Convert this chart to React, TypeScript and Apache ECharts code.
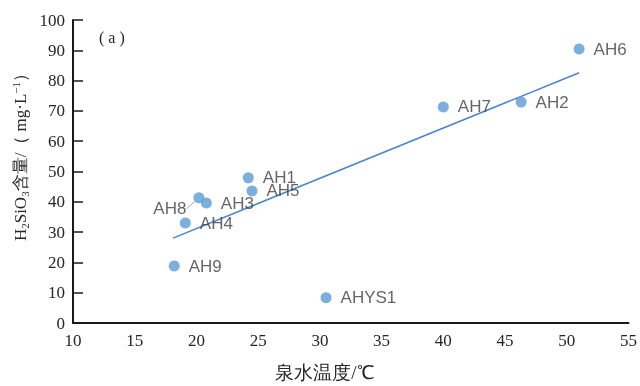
import React, { useEffect, useRef } from "react";
import * as echarts from "echarts";

const names = ["AH1", "AH2", "AH3", "AH4", "AH5", "AH6", "AH7", "AH8", "AH9", "AHYS1"];
const temps = [24.2, 46.3, 20.8, 19.1, 24.5, 51.0, 40.0, 20.2, 18.2, 30.5];
const silica = [47.9, 72.9, 39.6, 33.0, 43.6, 90.4, 71.3, 41.3, 18.8, 8.3];
const trendX = [18.1, 51.0];
const trendY = [28.0, 82.6];
const xTicks = { min: 10, max: 55, interval: 5 };
const yTicks = { min: 0, max: 100, interval: 10 };
const xName = "泉水温度/℃";

const serif = "Liberation Serif";
const sans = "Liberation Sans";

export default function App() {
  const ref = useRef<HTMLDivElement>(null);
  useEffect(() => {
    if (!ref.current) return;
    const chart = echarts.init(ref.current, null, { renderer: "svg" });
    const ah8 = names.indexOf("AH8");
    const data = names.map((n, i) => {
      const item: any = { name: n, value: [temps[i], silica[i]] };
      if (i === ah8) {
        item.label = { position: "left", distance: 10 };
        item.labelLine = { show: true, lineStyle: { color: "#a6a6a6", width: 1 } };
      }
      return item;
    });
    chart.setOption({
      animation: false,
      grid: { left: 73, right: 10, top: 20, bottom: 63, containLabel: false },
      xAxis: {
        type: "value",
        min: xTicks.min,
        max: xTicks.max,
        interval: xTicks.interval,
        axisLine: { show: true, onZero: false, lineStyle: { color: "#1a1a1a", width: 2 } },
        axisTick: { show: false },
        splitLine: { show: false },
        axisLabel: { fontFamily: serif, fontSize: 17, color: "#262626", margin: 9 },
      },
      yAxis: {
        type: "value",
        min: yTicks.min,
        max: yTicks.max,
        interval: yTicks.interval,
        axisLine: { show: true, onZero: false, lineStyle: { color: "#1a1a1a", width: 2 } },
        axisTick: { show: true, inside: true, length: 10, lineStyle: { color: "#1a1a1a", width: 1.5 } },
        splitLine: { show: false },
        axisLabel: { fontFamily: serif, fontSize: 17, color: "#262626", margin: 8 },
      },
      graphic: [
        {
          type: "text",
          x: 99,
          y: 37,
          style: { text: "( a )", font: `16px ${serif}`, fill: "#262626", verticalAlign: "middle", align: "left" },
        },
        {
          type: "text",
          x: 325,
          y: 372,
          style: { text: xName, font: `19px ${serif}`, fill: "#262626", verticalAlign: "middle", align: "center" },
        },
        {
          type: "text",
          x: 20,
          y: 153,
          rotation: Math.PI / 2,
          style: {
            text: "{n|H}{s|2}{n|SiO}{s|3}{n|含量/（ mg·L}{p|−1}{n|）}",
            align: "center",
            verticalAlign: "middle",
            fill: "#262626",
            rich: {
              n: { fontFamily: serif, fontSize: 17, fill: "#262626", verticalAlign: "middle", lineHeight: 20 },
              s: { fontFamily: serif, fontSize: 11, fill: "#262626", verticalAlign: "bottom", lineHeight: 20, padding: [8, 0, 0, 0] },
              p: { fontFamily: serif, fontSize: 11, fill: "#262626", verticalAlign: "top", lineHeight: 20, padding: [0, 0, 8, 0] },
            },
          },
        },
      ],
      series: [
        {
          type: "line",
          data: trendX.map((x, i) => [x, trendY[i]]),
          showSymbol: false,
          symbol: "none",
          lineStyle: { color: "#4A84CC", width: 1.5 },
          z: 1,
          silent: true,
        },
        {
          type: "scatter",
          data,
          symbolSize: 11,
          itemStyle: { color: "#5B9BD5" },
          z: 3,
          label: {
            show: true,
            position: "right",
            distance: 9,
            formatter: "{b}",
            fontFamily: sans,
            fontSize: 17,
            color: "#404040",
          },
          labelLayout: (p: any) => (p.dataIndex === ah8 ? { dx: 3, dy: 11 } : {}),
        },
      ],
    });
    return () => chart.dispose();
  }, []);
  return <div ref={ref} style={{ position: "fixed", left: 0, top: 0, width: 640, height: 386 }} />;
}
